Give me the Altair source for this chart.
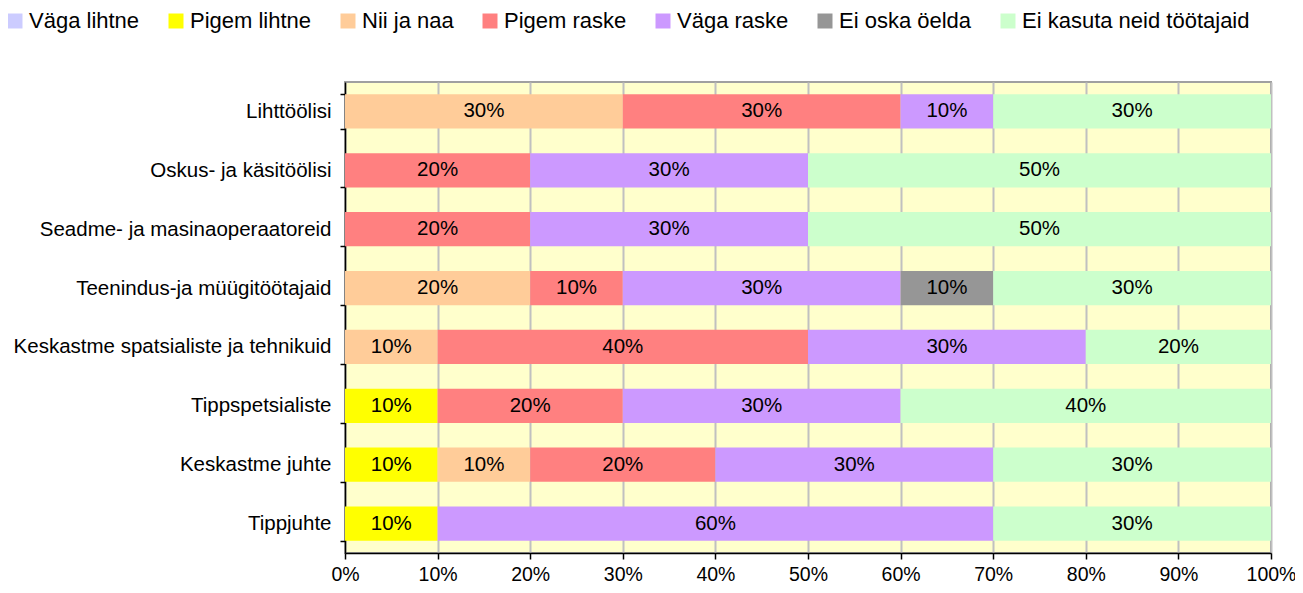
import altair as alt
import pandas as pd

categories = [
    "Lihttöölisi",
    "Oskus- ja käsitöölisi",
    "Seadme- ja masinaoperaatoreid",
    "Teenindus-ja müügitöötajaid",
    "Keskastme spatsialiste ja tehnikuid",
    "Tippspetsialiste",
    "Keskastme juhte",
    "Tippjuhte",
]
series = ["Väga lihtne", "Pigem lihtne", "Nii ja naa", "Pigem raske",
          "Väga raske", "Ei oska öelda", "Ei kasuta neid töötajaid"]
colors = ["#CCCCFF", "#FFFF00", "#FFCC99", "#FF8080", "#CC99FF", "#969696", "#CCFFCC"]

vaga_lihtne = [0, 0, 0, 0, 0, 0, 0, 0]
pigem_lihtne = [0, 0, 0, 0, 0, 0.1, 0.1, 0.1]
nii_ja_naa = [0.3, 0, 0, 0.2, 0.1, 0, 0.1, 0]
pigem_raske = [0.3, 0.2, 0.2, 0.1, 0.4, 0.2, 0.2, 0]
vaga_raske = [0.1, 0.3, 0.3, 0.3, 0.3, 0.3, 0.3, 0.6]
ei_oska = [0, 0, 0, 0.1, 0, 0, 0, 0]
ei_kasuta = [0.3, 0.5, 0.5, 0.3, 0.2, 0.4, 0.3, 0.3]

values = [vaga_lihtne, pigem_lihtne, nii_ja_naa, pigem_raske, vaga_raske, ei_oska, ei_kasuta]

rows = []
for si, (s, vals) in enumerate(zip(series, values)):
    for c, v in zip(categories, vals):
        rows.append({"cat": c, "series": s, "order": si, "value": v})
df = pd.DataFrame(rows)

FONT = "Liberation Sans"

base = alt.Chart(df).transform_filter(
    alt.datum.value > 0
).transform_stack(
    stack="value", as_=["x0", "x1"], groupby=["cat"],
    sort=[alt.SortField("order", order="ascending")]
).transform_calculate(
    mid="(datum.x0 + datum.x1) / 2"
)

y_enc = alt.Y(
    "cat:N", sort=categories, title=None,
    scale=alt.Scale(paddingInner=0.42, paddingOuter=0.21),
    axis=alt.Axis(labelFontSize=20.5, labelFont=FONT, labelColor="black",
                  domainColor="black", domainWidth=1.5, tickColor="black",
                  tickWidth=1.5, tickSize=5, tickBand="extent", labelPadding=9,
                  labelLimit=500),
)

bars = base.mark_bar().encode(
    x=alt.X("x0:Q", title=None,
            scale=alt.Scale(domain=[0, 1], nice=False),
            axis=alt.Axis(format=".0%", values=[i / 10 for i in range(11)],
                          labelFontSize=19.5, labelFont=FONT, labelColor="black",
                          labelFlush=False,
                          domainColor="black", domainWidth=1.5, tickColor="black",
                          tickWidth=1.5, tickSize=6, grid=True, gridColor="#C0C0C0",
                          gridWidth=2, labelPadding=6)),
    x2="x1:Q",
    y=y_enc,
    color=alt.Color("series:N", scale=alt.Scale(domain=series, range=colors),
                    legend=alt.Legend(title=None, orient="none", direction="horizontal",
                                      legendX=-341, legendY=-72,
                                      symbolType="square", symbolSize=225,
                                      symbolStrokeWidth=0, labelFontSize=22,
                                      labelFont=FONT, labelColor="black",
                                      labelOffset=3, columnPadding=25,
                                      labelLimit=500)),
)

texts = base.mark_text(fontSize=20.5, font=FONT, color="black").encode(
    x="mid:Q",
    y=alt.Y("cat:N", sort=categories),
    text=alt.Text("value:Q", format=".0%"),
)

chart = (bars + texts).properties(
    width=926, height=471,
    autosize=alt.AutoSizeParams(type="none"),
    padding={"left": 337, "top": 74, "right": 24, "bottom": 32},
).configure_view(
    fill="#FFFFCC", stroke="#A0A0A0", strokeWidth=2
)

chart.save("out.html", embed_options={"renderer": "svg", "actions": False})
